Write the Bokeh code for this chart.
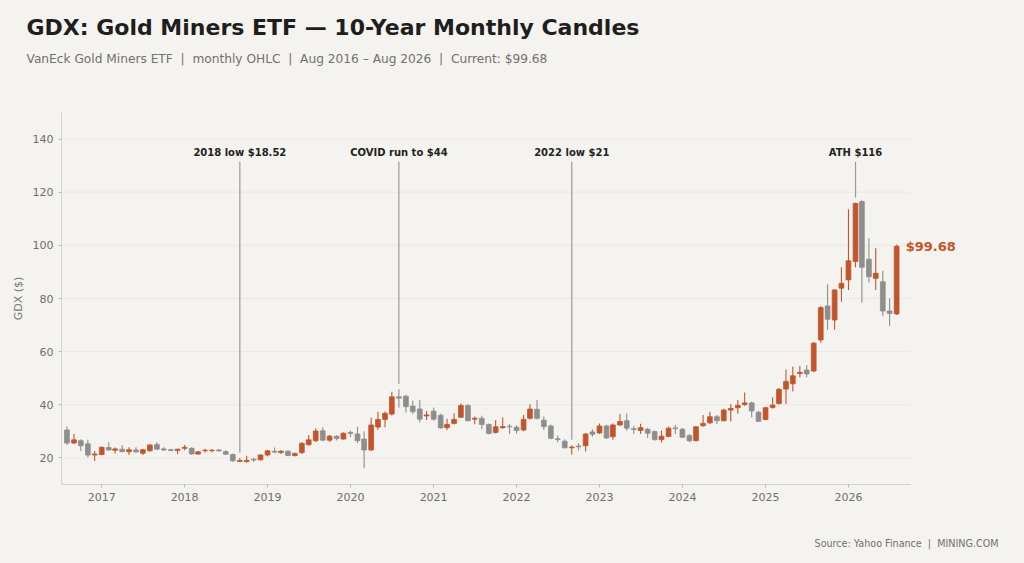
from datetime import datetime, timedelta
import pandas as pd
from bokeh.plotting import figure
from bokeh.models import ColumnDataSource, Range1d, Label, Title, FixedTicker, DatetimeTickFormatter
from bokeh.core.properties import value
from bokeh.embed import file_html
from bokeh.resources import INLINE

# ---------------- data ----------------
months = pd.date_range("2016-08-01", periods=121, freq="MS")

opens = [30.5, 25.6, 26.5, 25.3, 21.1, 21.3, 23.9, 22.9, 23.3, 22.3,
         23.0, 21.8, 22.7, 25.1, 23.4, 23.1, 22.8, 23.6, 23.6, 21.5,
         22.7, 22.7, 23.0, 22.4, 21.3, 18.7, 18.6, 19.5, 19.3, 21.1,
         22.5, 22.0, 22.5, 20.9, 22.0, 25.0, 26.5, 30.2, 26.7, 28.2,
         27.1, 29.6, 29.0, 27.1, 23.0, 31.6, 34.5, 36.5, 43.0, 43.2,
         39.5, 38.4, 35.8, 37.6, 36.1, 31.4, 33.0, 35.3, 39.7, 34.6,
         34.9, 32.6, 29.6, 31.4, 31.9, 31.5, 30.5, 34.9, 38.3, 34.2,
         32.0, 27.2, 26.3, 23.8, 24.5, 24.6, 29.8, 29.4, 32.0, 28.0,
         32.4, 34.0, 31.0, 30.3, 30.8, 29.9, 26.9, 28.1, 31.3, 30.8,
         28.4, 26.5, 32.1, 33.2, 35.5, 34.0, 38.0, 38.9, 40.1, 40.7,
         37.2, 34.5, 39.0, 40.5, 45.9, 47.9, 51.8, 53.1, 52.7, 64.4,
         77.2, 71.9, 83.9, 87.0, 93.9, 116.5, 94.8, 87.6, 86.3, 75.3,
         74.2]

highs = [31.8, 29.0, 27.0, 26.8, 22.6, 24.3, 25.9, 23.9, 24.9, 24.0,
         24.0, 23.5, 25.1, 25.9, 24.0, 23.5, 23.5, 24.9, 24.0, 22.6,
         23.5, 23.4, 23.4, 22.9, 21.6, 20.0, 20.8, 20.1, 21.4, 23.0,
         23.9, 23.0, 22.9, 22.0, 25.9, 28.6, 31.2, 31.5, 28.6, 28.5,
         29.6, 30.2, 31.7, 30.0, 35.1, 37.4, 37.5, 44.9, 45.8, 43.8,
         41.5, 41.8, 37.7, 38.9, 36.6, 34.7, 36.8, 40.5, 40.3, 35.6,
         35.9, 33.0, 34.3, 35.2, 32.8, 32.3, 36.2, 40.2, 41.8, 35.6,
         32.6, 28.4, 27.0, 24.8, 25.5, 29.4, 30.8, 33.0, 32.5, 33.0,
         36.4, 36.7, 32.0, 32.9, 31.4, 30.3, 30.3, 31.8, 32.4, 31.3,
         28.9, 32.0, 36.2, 37.4, 36.2, 38.5, 40.3, 41.8, 44.6, 41.2,
         37.8, 39.3, 42.8, 46.3, 53.3, 54.4, 54.6, 54.9, 63.6, 77.2,
         85.4, 83.6, 91.8, 113.6, 116.0, 117.0, 102.7, 98.9, 90.4, 80.1,
         100.2]

lows = [25.0, 25.2, 22.6, 20.3, 18.8, 21.0, 22.7, 21.7, 22.0, 21.1,
        21.9, 21.1, 22.3, 23.0, 22.6, 22.5, 21.4, 22.9, 21.2, 21.1,
        22.0, 22.1, 22.3, 21.1, 18.6, 18.52, 18.3, 18.5, 19.0, 20.5,
        21.8, 21.5, 20.7, 20.5, 21.5, 24.6, 26.0, 26.3, 26.1, 26.6,
        26.9, 27.9, 25.5, 16.1, 22.5, 30.6, 31.5, 36.0, 38.9, 37.1,
        36.5, 33.3, 34.3, 34.0, 31.0, 30.5, 32.6, 35.0, 33.8, 32.7,
        30.8, 28.8, 29.2, 30.9, 29.0, 29.2, 30.0, 34.5, 34.5, 30.5,
        27.0, 25.9, 23.6, 21.3, 22.8, 22.4, 28.0, 29.0, 27.2, 26.8,
        32.0, 30.2, 29.0, 29.0, 27.5, 26.5, 25.8, 27.8, 29.0, 27.5,
        25.9, 26.2, 31.7, 32.8, 32.8, 33.8, 33.7, 36.6, 39.5, 35.2,
        33.5, 34.2, 38.5, 40.0, 40.3, 45.0, 50.4, 50.4, 52.2, 63.3,
        68.2, 68.2, 78.8, 83.2, 91.8, 78.4, 86.0, 83.2, 73.4, 69.7,
        73.8]

closes = [25.6, 26.8, 24.6, 21.1, 21.5, 24.0, 23.0, 23.4, 22.4, 23.1,
          22.3, 23.1, 24.9, 23.3, 23.0, 22.8, 23.3, 24.0, 21.5, 22.3,
          22.9, 22.9, 22.7, 21.4, 18.9, 19.0, 19.1, 19.2, 21.1, 22.7,
          22.2, 22.5, 20.9, 21.7, 25.5, 26.8, 30.1, 26.7, 28.2, 27.3,
          29.3, 29.2, 26.5, 23.0, 32.4, 34.5, 36.8, 43.0, 42.5, 39.3,
          37.4, 34.6, 36.2, 34.6, 31.3, 32.6, 34.5, 39.7, 34.0, 34.9,
          32.6, 29.2, 31.7, 31.8, 31.7, 30.3, 34.5, 38.4, 34.9, 31.8,
          27.4, 26.9, 23.8, 24.1, 24.2, 29.0, 28.9, 32.0, 27.5, 32.4,
          33.7, 31.2, 30.7, 31.4, 29.3, 26.9, 28.2, 31.2, 31.0, 27.8,
          26.5, 31.7, 33.0, 35.5, 34.0, 38.0, 38.6, 39.8, 40.7, 37.7,
          33.8, 38.9, 39.9, 45.8, 48.8, 50.9, 52.2, 51.6, 63.2, 76.6,
          72.2, 83.2, 85.7, 94.2, 115.8, 91.8, 88.2, 89.5, 75.3, 74.4,
          99.68]

ann_dates = ["2018-09-01", "2020-08-01", "2022-09-01", "2026-02-01"]
ann_labels = ["2018 low $18.52", "COVID run to $44", "2022 low $21", "ATH $116"]

year_ticks = [2017, 2018, 2019, 2020, 2021, 2022, 2023, 2024, 2025, 2026]
y_ticks = [20, 40, 60, 80, 100, 120, 140]

# ---------------- style ----------------
UP = "#c2552c"
DOWN = "#8e8e8e"
BG = "#f5f3ef"
GRID = "#ebe8e2"
FONT = "DejaVu Sans"
SEP = "\u00a0\u00a0|\u00a0\u00a0"

W, H = 1024, 563
FL, FR_AXIS, FR, FT, FB = 61, 910, 1000, 112, 484   # frame edges (px)

x_start = datetime(2016, 7, 8)
x_axis_end = datetime(2026, 10, 1)
px_per_day = (FR_AXIS - FL) / (x_axis_end - x_start).days
x_end = x_axis_end + timedelta(days=(FR - FR_AXIS) / px_per_day)

colors = [UP if c >= o else DOWN for o, c in zip(opens, closes)]
src = ColumnDataSource(dict(
    date=list(months),
    open=opens, high=highs, low=lows, close=closes,
    top=[max(o, c) for o, c in zip(opens, closes)],
    bottom=[min(o, c) for o, c in zip(opens, closes)],
    color=colors,
))

p = figure(width=W, height=H, x_axis_type="datetime",
           output_backend="svg", toolbar_location=None,
           x_range=Range1d(x_start, x_end),
           y_range=Range1d(10, 150),
           min_border_left=FL, min_border_right=W - FR,
           min_border_top=FT, min_border_bottom=H - FB)
p.background_fill_color = BG
p.border_fill_color = BG
p.outline_line_color = None
p.styles = {"background-color": BG}

# horizontal grid (stops where the axis stops)
p.segment(x0=[x_start] * len(y_ticks), x1=[x_axis_end] * len(y_ticks),
          y0=y_ticks, y1=y_ticks, line_color=GRID, line_width=1)

# candles
p.segment(x0="date", y0="low", x1="date", y1="high", source=src,
          line_color="color", line_width=1.1)
p.vbar(x="date", width=timedelta(days=21).total_seconds() * 1000,
       top="top", bottom="bottom", source=src,
       fill_color="color", line_color="color", line_width=0.8)

# annotations
idx = {d.strftime("%Y-%m-%d"): i for i, d in enumerate(months)}
ann_x = [months[idx[d]] for d in ann_dates]
ann_hi = [highs[idx[d]] + 2 for d in ann_dates]
asrc = ColumnDataSource(dict(x=ann_x, y0=ann_hi, y1=[131.5] * len(ann_x),
                             ty=[135.0] * len(ann_x), label=ann_labels))
p.segment(x0="x", y0="y0", x1="x", y1="y1", source=asrc,
          line_color="#9a9a9a", line_width=1.2)
p.text(x="x", y="ty", text="label", source=asrc,
       text_font=value(FONT), text_font_size="10px", text_font_style="bold",
       text_color="#222222", text_align="center", text_baseline="middle")

# current price label
p.add_layout(Label(x=months[-1], y=closes[-1], x_offset=9,
                   text=f"${closes[-1]:.2f}", text_font=FONT,
                   text_font_size="13px", text_font_style="bold",
                   text_color=UP, text_baseline="middle"))

# axes
p.xaxis.ticker = FixedTicker(ticks=[datetime(y, 1, 1).timestamp() * 1000 for y in year_ticks])
p.xaxis.formatter = DatetimeTickFormatter(years="%Y", months="%Y", days="%Y",
                                          hours="%Y", minutes="%Y", seconds="%Y",
                                          milliseconds="%Y", microseconds="%Y")
p.xaxis.bounds = (x_start, x_axis_end)
p.yaxis.ticker = FixedTicker(ticks=y_ticks)
p.yaxis.axis_label = "GDX ($)"
for ax in (p.xaxis[0], p.yaxis[0]):
    ax.axis_line_color = "#d6d3cd"
    ax.major_tick_line_color = "#bdbab4"
    ax.major_tick_out = 3
    ax.major_tick_in = 0
    ax.minor_tick_line_color = None
    ax.major_label_text_font = FONT
    ax.major_label_text_font_size = "11px"
    ax.major_label_text_color = "#6e6e6e"
    ax.axis_label_text_font = FONT
    ax.axis_label_text_font_size = "11px"
    ax.axis_label_text_font_style = "normal"
    ax.axis_label_text_color = "#777777"
p.xaxis.major_label_standoff = 5
p.yaxis.major_label_standoff = 5
p.grid.grid_line_color = None

# titles: first added sits nearest the plot
p.add_layout(Title(text=" ", text_font_size="10px", standoff=32), "above")
p.add_layout(Title(text=SEP.join(["VanEck Gold Miners ETF", "monthly OHLC",
                                  "Aug 2016 \u2013 Aug 2026", f"Current: ${closes[-1]:.2f}"]),
                   text_font=FONT, text_font_size="12.2px", text_font_style="normal",
                   text_color="#707070", align="left", offset=-35, standoff=4), "above")
p.add_layout(Title(text="GDX: Gold Miners ETF \u2014 10-Year Monthly Candles",
                   text_font=FONT, text_font_size="22px", text_font_style="bold",
                   text_color="#1e1e1e", align="left", offset=-35, standoff=16), "above")
p.add_layout(Title(text=" ", text_font_size="10px", standoff=19), "below")
p.add_layout(Title(text=SEP.join(["Source: Yahoo Finance", "MINING.COM"]),
                   text_font=FONT, text_font_size="9.6px", text_font_style="normal",
                   text_color="#707070", align="right", offset=2, standoff=4,
                   vertical_align="top"), "below")

open("out.html", "w").write(file_html(p, INLINE))
